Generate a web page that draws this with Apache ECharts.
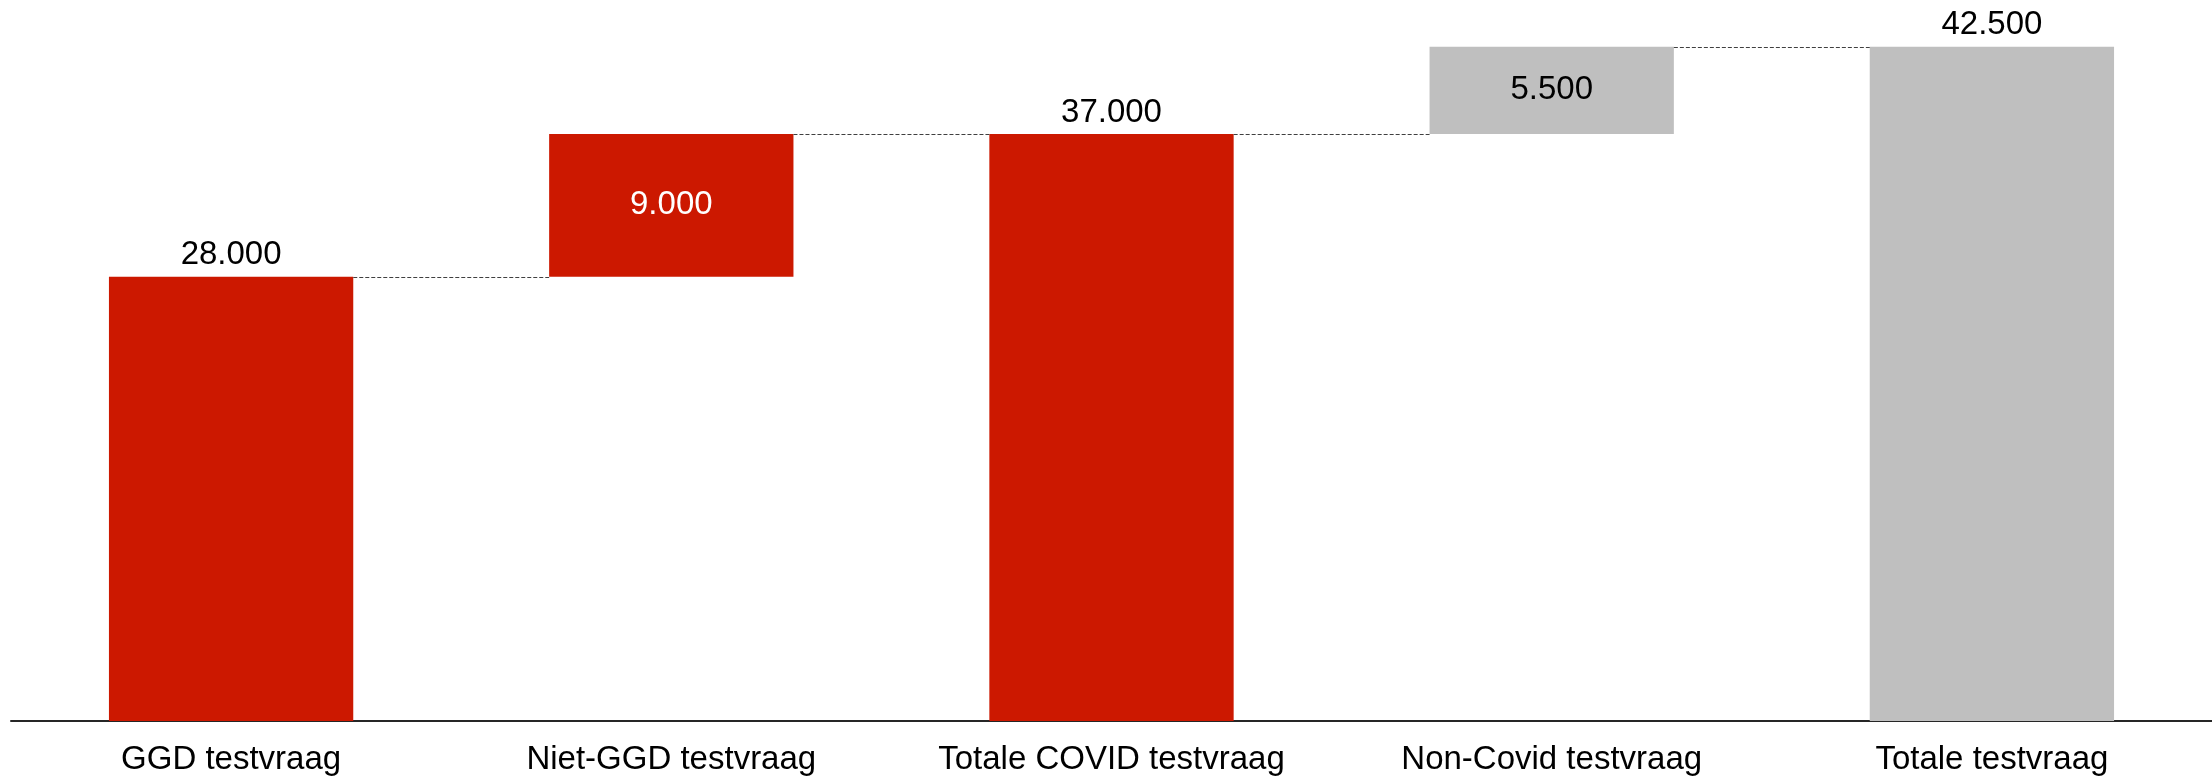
<!DOCTYPE html>
<html>
<head>
<meta charset="utf-8">
<script src="https://cdn.jsdelivr.net/npm/echarts@6/dist/echarts.min.js"></script>
<style>
html,body{margin:0;padding:0;background:#fff;}
#chart{width:2212px;height:776px;}
</style>
</head>
<body>
<div id="chart"></div>
<script>
var categories = ['GGD testvraag', 'Niet-GGD testvraag', 'Totale COVID testvraag', 'Non-Covid testvraag', 'Totale testvraag'];
var values = [28000, 9000, 37000, 5500, 42500];
var isTotal = [true, false, true, false, true];
var barColors = ['#CC1800', '#CC1800', '#CC1800', '#BFBFBF', '#BFBFBF'];
var labelColors = ['#000000', '#FFFFFF', '#000000', '#000000', '#000000'];

var bases = [];
var tops = [];
var running = 0;
for (var i = 0; i < values.length; i++) {
  if (isTotal[i]) { bases.push(0); running = values[i]; }
  else { bases.push(running); running += values[i]; }
  tops.push(bases[i] + values[i]);
}
function fmt(v) { return String(v).replace(/\B(?=(\d{3})+(?!\d))/g, '.'); }

var BAR_FRAC = 0.555;
var FONT = '"Liberation Sans", Arial, sans-serif';

var valueData = values.map(function (v, i) {
  return {
    value: v,
    itemStyle: { color: barColors[i] },
    label: {
      show: true,
      position: isTotal[i] ? 'top' : 'inside',
      distance: 5,
      color: labelColors[i],
      fontSize: 33,
      fontFamily: FONT,
      formatter: function (p) { return fmt(p.value); }
    }
  };
});

var connectorData = [];
for (var j = 0; j < values.length - 1; j++) connectorData.push([j, tops[j]]);

var chart = echarts.init(document.getElementById('chart'));
chart.setOption({
  animation: false,
  backgroundColor: '#ffffff',
  grid: { left: 11, right: 0, top: 7, bottom: 55, containLabel: false },
  xAxis: {
    type: 'category',
    data: categories,
    axisLine: { show: true, lineStyle: { color: '#262626', width: 2 } },
    axisTick: { show: false },
    axisLabel: { color: '#000', fontSize: 33, fontFamily: FONT, margin: 22, interval: 0 },
    splitLine: { show: false }
  },
  yAxis: {
    type: 'value',
    min: 0,
    max: 45000,
    show: false,
    splitLine: { show: false }
  },
  series: [
    {
      type: 'bar',
      stack: 'w',
      barWidth: (BAR_FRAC * 100) + '%',
      itemStyle: { color: 'transparent' },
      emphasis: { disabled: true },
      data: bases
    },
    {
      type: 'bar',
      stack: 'w',
      barWidth: (BAR_FRAC * 100) + '%',
      data: valueData
    },
    {
      type: 'custom',
      silent: true,
      z: 5,
      data: connectorData,
      renderItem: function (params, api) {
        var idx = api.value(0);
        var lvl = api.value(1);
        var p1 = api.coord([idx, lvl]);
        var p2 = api.coord([idx + 1, lvl]);
        var half = api.size([1, 0])[0] * BAR_FRAC / 2;
        var y = Math.round(p1[1]) + 0.5;
        return {
          type: 'line',
          shape: { x1: p1[0] + half, y1: y, x2: p2[0] - half, y2: y },
          style: { stroke: '#404040', lineWidth: 1.2, lineDash: [4, 2] }
        };
      }
    }
  ]
});
</script>
</body>
</html>
